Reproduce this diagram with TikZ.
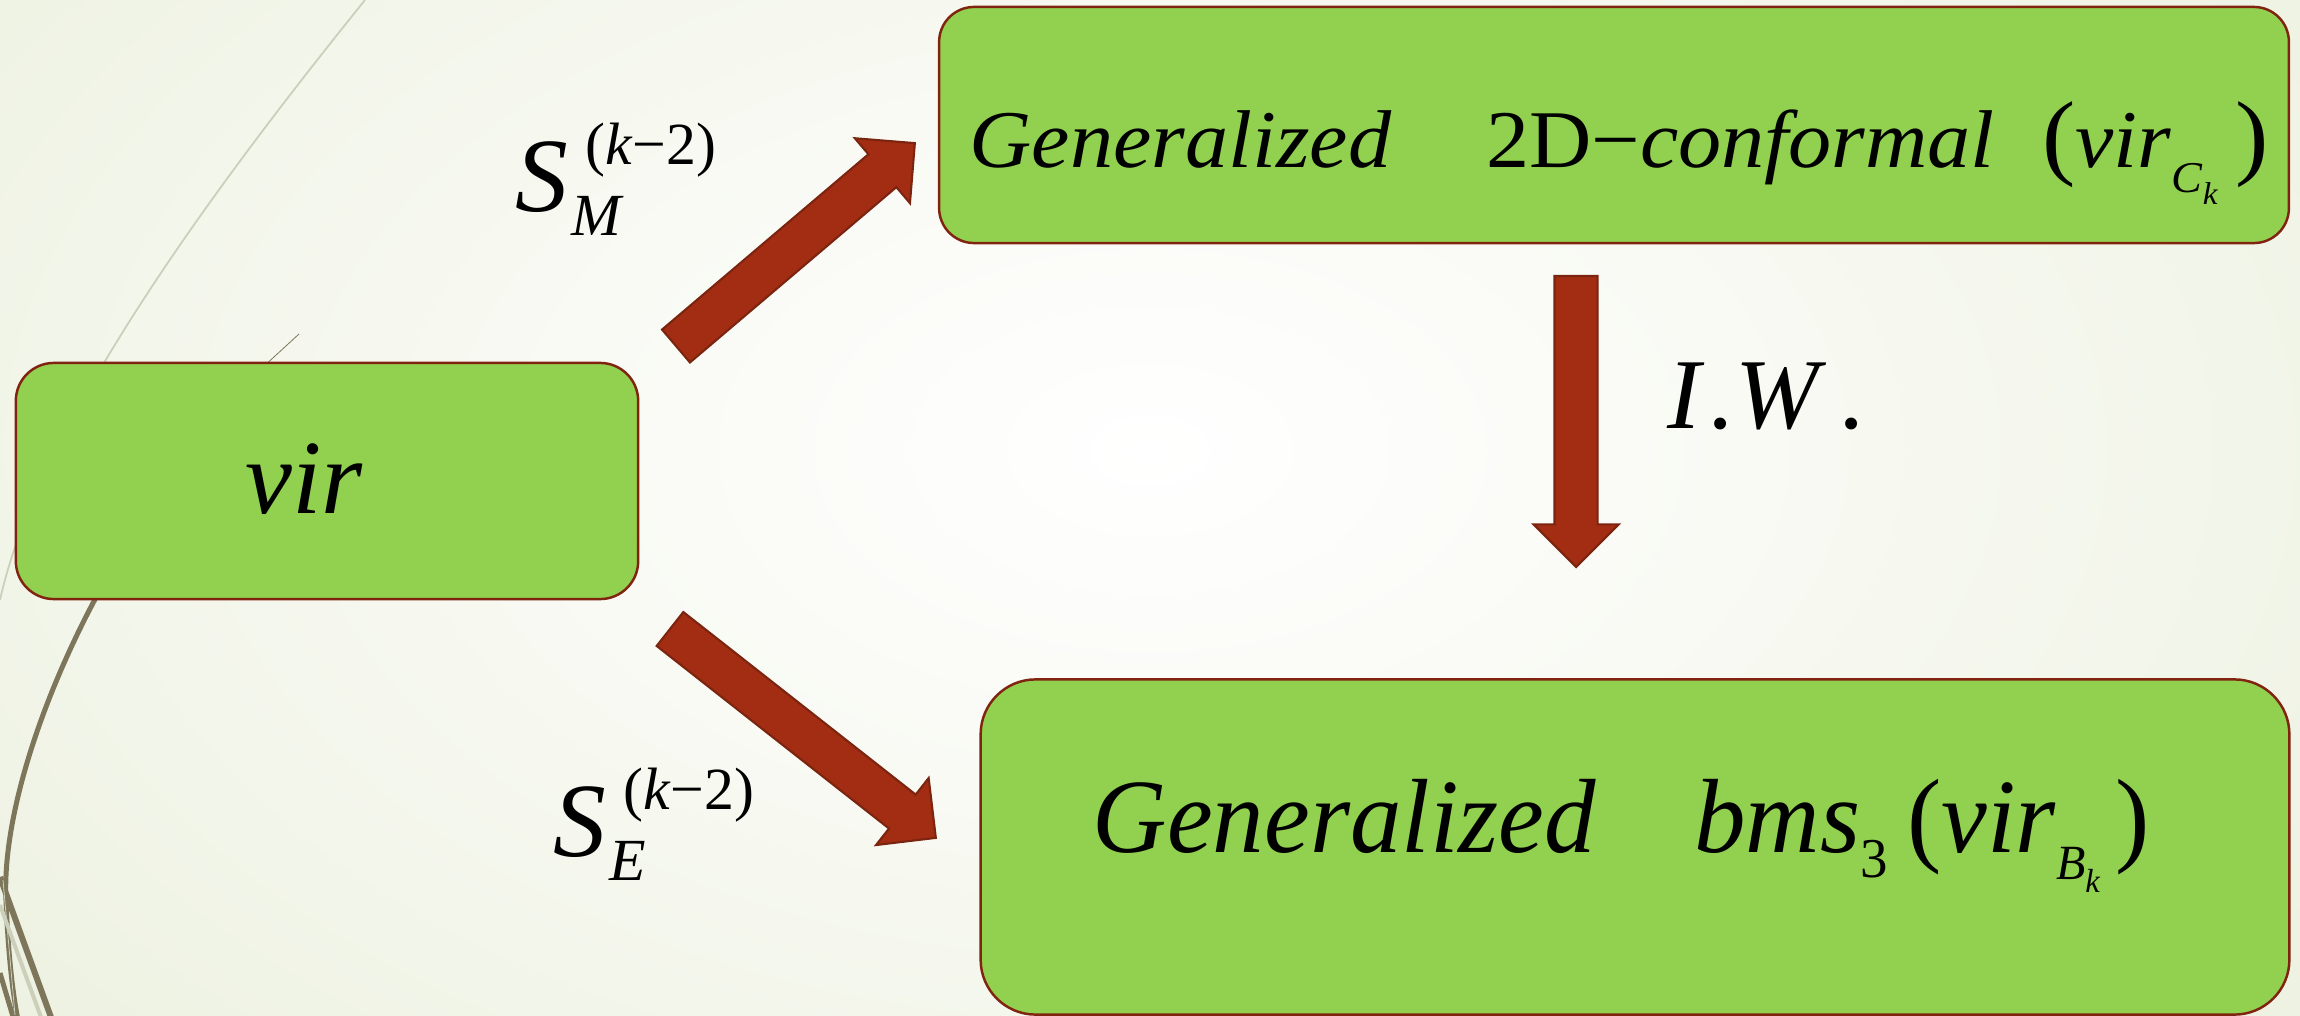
\documentclass[tikz,border=0pt]{standalone}
\usepackage{fontspec}
\setmainfont{Liberation Serif}
\usepackage{graphicx}
\usetikzlibrary{shapes.arrows,calc}

\definecolor{boxgreen}{RGB}{146,208,80}
\definecolor{boxrim}{RGB}{128,36,16}
\definecolor{arrowred}{RGB}{163,45,18}
\definecolor{arrowrim}{RGB}{123,36,16}
\definecolor{wispdark}{RGB}{125,118,91}
\definecolor{wisplight}{RGB}{204,207,186}
\definecolor{glowmid}{RGB}{250,251,246}
\definecolor{glowedge}{RGB}{227,234,209}
\definecolor{glowcorner}{RGB}{220,229,198}

\pgfdeclareradialshading{slideglow}{\pgfpoint{0bp}{0bp}}{color(0bp)=(white); color(8bp)=(glowmid); color(38bp)=(glowedge); color(50bp)=(glowcorner)}

\tikzset{
  greenbox/.style = {draw=boxrim, line width=0.7pt, fill=boxgreen},
  bigarrow/.style = {single arrow, draw=arrowrim, fill=arrowred, line width=0.6pt,
    inner sep=0pt, inner ysep=0.205cm, outer sep=0pt, minimum width=0.83cm,
    single arrow head extend=0.21cm, single arrow tip angle=90},
  lbl/.style = {inner sep=0pt, font=\fontsize{30}{36}\selectfont},
}

\newcommand{\subsize}{\fontsize{17}{20}\selectfont}
\newcommand{\sop}[1]{\textit{S}\rlap{\kern0.03cm\raisebox{-0.24cm}{\subsize\textit{#1}}}%
  \kern0.17cm\raisebox{0.46cm}{\subsize(\textit{k}−2)}}
\newcommand{\confname}{\textit{Generalized}\hspace{1.1em}2D−\textit{conformal}\hspace{0.55em}%
  {\fontsize{27}{30}\selectfont(}\textit{vir}\raisebox{-0.25cm}{\fontsize{12.5}{14}\selectfont
  \textit{C}\raisebox{-0.12cm}{\fontsize{9}{10}\selectfont\textit{k}}}\hspace{0.2em}%
  {\fontsize{27}{30}\selectfont)}}
\newcommand{\bmsname}{\textit{Generalized}\hspace{0.95em}\textit{bms}%
  \raisebox{-0.25cm}{\fontsize{16}{18}\selectfont 3}\hspace{0.2cm}(\textit{vir}%
  \raisebox{-0.27cm}{\fontsize{14}{16}\selectfont\textit{B}\raisebox{-0.13cm}{\fontsize{9.5}{11}\selectfont\textit{k}}}%
  \hspace{0.15cm})}
\newcommand{\blockarrow}[2]{%
  \path let \p1 = ($(#2)-(#1)$), \n1 = {veclen(\x1,\y1)} in
    (#1) -- node[bigarrow, sloped, allow upside down, pos=0, anchor=tail, minimum height=\n1] {} (#2);}

\begin{document}
\begin{tikzpicture}[x=0.01cm, y=-0.01cm]
\useasboundingbox (0,0) rectangle (2300,1015);
\begin{scope}
  \clip (0,0) rectangle (2300,1015);
  \shade[shading=slideglow] (-350,-450) rectangle (2650,1350);
\end{scope}
% wisps on the left
\draw[wisplight, line width=0.018cm] (365,0) .. controls (220,180) and (40,420) .. (0,600);
\draw[wispdark, line width=0.05cm] (100,590) .. controls (40,700) and (2,820) .. (6,900)
  .. controls (8,950) and (12,990) .. (18,1020);
\draw[wisplight, line width=0.04cm] (0,905) -- (42,1020);
\draw[wispdark, line width=0.06cm] (0,877) -- (52,1020);
\draw[wispdark, line width=0.05cm] (0,973) -- (14,1020);
\draw[wisplight, line width=0.008cm] (3,880) -- (15,1015);
\draw[wispdark, line width=0.008cm] (262,368) -- (299,334);

\node[greenbox, minimum width=6.22cm, minimum height=2.36cm, rounded corners=0.38cm] (vir) at (327,481) {};
\node[greenbox, minimum width=13.49cm, minimum height=2.36cm, rounded corners=0.35cm] (conf) at (1614,125) {};
\node[greenbox, minimum width=13.08cm, minimum height=3.35cm, rounded corners=0.55cm] (bms) at (1635,847) {};

\coordinate (mTail) at (676,346);
\coordinate (mTip) at (915,143);
\coordinate (eTail) at (670,629);
\coordinate (eTip) at (936,838);
\coordinate (wTail) at (1576,276);
\coordinate (wTip) at (1576,567);
\blockarrow{mTail}{mTip}
\blockarrow{eTail}{eTip}
\blockarrow{wTail}{wTip}

\node[lbl, anchor=base west] (virtext) at (245,513) {\textit{vir}};
\node[lbl, anchor=base west, font=\fontsize{23.3}{28}\selectfont] (conftext) at (969,167)
  {\resizebox{12.98cm}{\height}{\confname}};
\node[lbl, anchor=base west] (bmstext) at (1092,852) {\resizebox{10.56cm}{\height}{\bmsname}};
\node[lbl, anchor=base west] (smlabel) at (515,211) {\sop{M}};
\node[lbl, anchor=base west] (selabel) at (553,856) {\sop{E}};
\node[lbl, anchor=base west, font=\fontsize{28.5}{34}\selectfont] (iw) at (1667,428)
  {\textit{I}\kern0.05em\textit{.W}\kern0.15em\textit{.}};
\end{tikzpicture}
\end{document}
